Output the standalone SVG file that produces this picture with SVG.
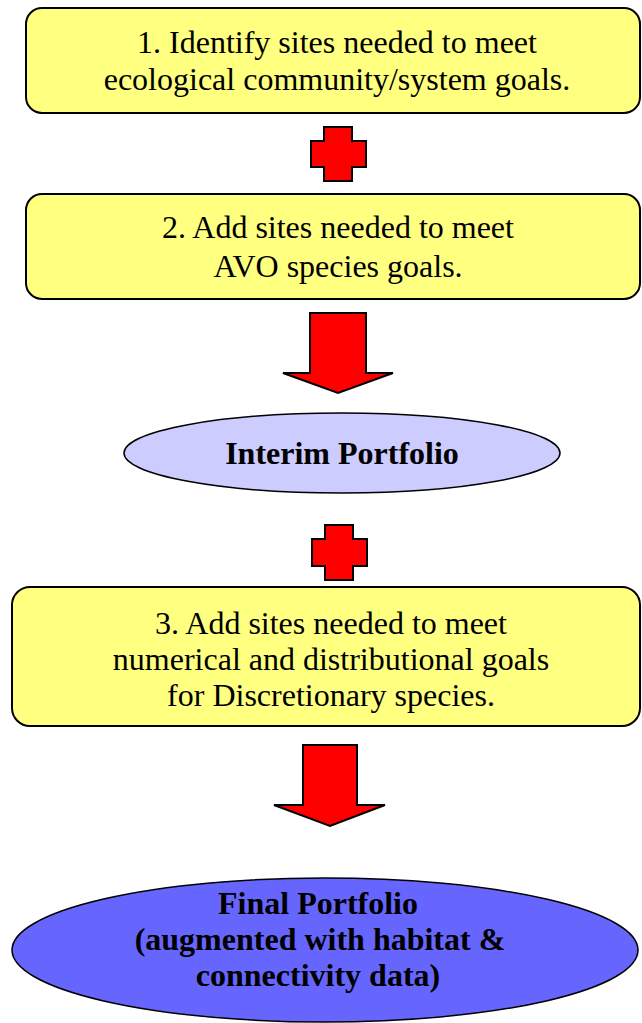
<svg xmlns="http://www.w3.org/2000/svg" width="642" height="1023" viewBox="0 0 642 1023">
  <style>
    .box { fill: #FFFF80; stroke: #000; stroke-width: 2; }
    .oval { stroke: #000; stroke-width: 1.5; }
    .plus, .arrow { fill: #FF0000; stroke: #000; stroke-width: 2; stroke-linejoin: miter; }
    .t { font-family: "Liberation Serif", "Times New Roman", serif; font-size: 32px; fill: #000; text-anchor: middle; }
    .b { font-weight: bold; }
  </style>
  <rect width="642" height="1023" fill="#fff"/>

  <g id="step1">
    <rect class="box" x="26" y="8" width="614" height="105" rx="16"/>
    <text class="t" x="337" y="53">1. Identify sites needed to meet</text>
    <text class="t" x="337" y="90">ecological community/system goals.</text>
  </g>

  <g id="step2">
    <rect class="box" x="26" y="194" width="614" height="105" rx="16"/>
    <text class="t" x="338" y="238">2. Add sites needed to meet</text>
    <text class="t" x="338" y="277">AVO species goals.</text>
  </g>

  <g id="interim">
    <ellipse class="oval" cx="342" cy="453" rx="218" ry="40" fill="#CCCCFF"/>
    <text class="t b" x="342" y="464">Interim Portfolio</text>
  </g>

  <g id="step3">
    <rect class="box" x="12" y="587" width="628" height="139" rx="18"/>
    <text class="t" x="331" y="634">3. Add sites needed to meet</text>
    <text class="t" x="331" y="670">numerical and distributional goals</text>
    <text class="t" x="331" y="706">for Discretionary species.</text>
  </g>

  <g id="final">
    <ellipse class="oval" cx="325" cy="950" rx="313" ry="72" fill="#6666FF"/>
    <text class="t b" x="318" y="914">Final Portfolio</text>
    <text class="t b" x="320" y="950">(augmented with habitat &amp;</text>
    <text class="t b" x="318" y="986">connectivity data)</text>
  </g>

  <g id="connectors">
    <!-- plus signs between steps -->
    <path class="plus" d="M324,127 H352 V141 H366 V167 H352 V181 H324 V167 H311 V141 H324 Z"/>
    <path class="plus" d="M325,525 H353 V539 H367 V566 H353 V580 H325 V566 H312 V539 H325 Z"/>
    <!-- block arrows -->
    <path class="arrow" d="M310,313 H366 V373 H393 L338,393 L283,373 H310 Z"/>
    <path class="arrow" d="M303,745 H357 V805 H385 L330,826 L274,805 H303 Z"/>
  </g>
</svg>
